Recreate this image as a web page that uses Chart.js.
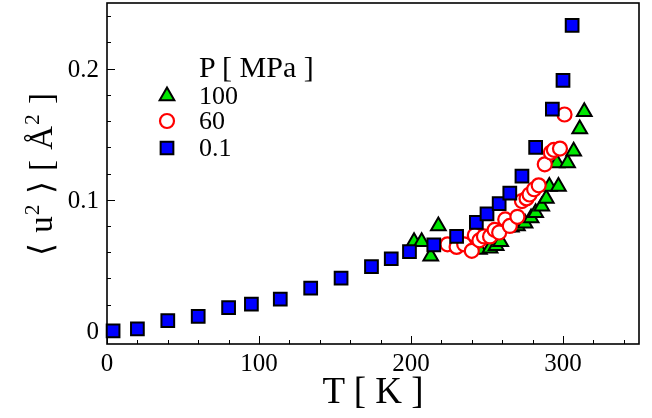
<!DOCTYPE html>
<html>
<head>
<meta charset="utf-8">
<script src="https://cdn.jsdelivr.net/npm/chart.js@4.4.1/dist/chart.umd.min.js"></script>
<style>
    html, body { margin: 0; padding: 0; background: #fff; }
    #wrap { position: relative; width: 652px; height: 418px; }
    #labels { position: absolute; left: 0; top: 0; width: 652px; height: 418px; pointer-events: none; }
    #labels div {
        position: absolute;
        font-family: "Liberation Serif";
        line-height: 1;
        white-space: nowrap;
        color: #000;
    }
    #labels .sup { position: relative; top: -0.62em; font-size: 0.65em; }
</style>
</head>
<body>
<div id="wrap">
    <canvas id="chart"></canvas>
    <div id="labels"></div>
</div>
<script>
// --- Data ---

const xTicks = [0, 100, 200, 300];
const yTicks = [0, 0.1, 0.2];

// P = 0.1 MPa (blue squares)
const t01 = [4, 20, 40, 60, 80, 95, 114, 134, 154, 174, 187, 199, 215, 230, 243, 250, 258, 265, 273, 282, 293, 300, 306];
const u01 = [0.000, 0.0015, 0.0079, 0.011, 0.0178, 0.0204, 0.0242, 0.0326, 0.0402, 0.049, 0.055, 0.0605, 0.0656, 0.072, 0.0827, 0.0893, 0.097, 0.105, 0.118, 0.140, 0.169, 0.191, 0.233];

// P = 60 MPa (red circles)
const t60 = [224, 230, 235, 240, 242, 245, 248, 252, 255, 258, 262, 265, 270, 273, 276, 278, 281, 284, 288, 292, 294, 298, 301];
const u60 = [0.066, 0.064, 0.066, 0.061, 0.073, 0.069, 0.072, 0.072, 0.077, 0.075, 0.085, 0.080, 0.087, 0.099, 0.101, 0.104, 0.108, 0.111, 0.127, 0.136, 0.138, 0.139, 0.165];

// P = 100 MPa (green triangles)
const t100 = [202, 207, 213, 218, 245, 252, 256, 259, 263, 266, 270, 275, 279, 282, 286, 289, 291, 297, 296, 303, 307, 311, 314];
const u100 = [0.068, 0.068, 0.057, 0.080, 0.062, 0.063, 0.065, 0.068, 0.079, 0.079, 0.080, 0.082, 0.086, 0.090, 0.095, 0.101, 0.110, 0.110, 0.128, 0.128, 0.137, 0.154, 0.167];

const legendTitle = 'P [ MPa ]';
const legendLabels = ['100', '60', '0.1'];

const toPoints = (xs, ys) => xs.map((x, i) => ({ x: x, y: ys[i] }));

// --- Styles ---

const styleSquare = { pointStyle: 'rect', radius: 9, fill: '#0000ff', stroke: '#000000', width: 2 };
const styleCircle = { pointStyle: 'circle', radius: 7, fill: '#ffffff', stroke: '#ff0000', width: 2.2 };
const styleTriangle = { pointStyle: 'triangle', radius: 8.5, fill: '#00e600', stroke: '#000000', width: 2 };

// wanted plot frame, in px
const AREA = { left: 107, top: 3, right: 639, bottom: 344 };
const LEGEND_X = 167, LEGEND_TEXT_X = 199;
const LEGEND_ROWS = [96, 121, 148];

function drawMarker(ctx, st, x, y) {
    ctx.save();
    ctx.fillStyle = st.fill;
    ctx.strokeStyle = st.stroke;
    ctx.lineWidth = st.width;
    ctx.beginPath();
    const r = st.radius;
    if (st.pointStyle === 'rect') {
        const s = Math.SQRT1_2 * r;
        ctx.rect(x - s, y - s, 2 * s, 2 * s);
    } else if (st.pointStyle === 'circle') {
        ctx.arc(x, y, r, 0, Math.PI * 2);
    } else {
        for (let k = 0; k < 3; k++) {
            const a = k * 2 * Math.PI / 3;
            const px = x + Math.sin(a) * r;
            const py = y - Math.cos(a) * r;
            if (k === 0) ctx.moveTo(px, py); else ctx.lineTo(px, py);
        }
        ctx.closePath();
    }
    ctx.fill();
    ctx.stroke();
    ctx.restore();
}

// --- Text overlay (HTML text, placed from the chart's scales) ---

const labelsBox = document.getElementById('labels');

function addLabel(html, size, left, top, transform) {
    const d = document.createElement('div');
    d.innerHTML = html;
    d.style.fontSize = size + 'px';
    d.style.left = left + 'px';
    d.style.top = top + 'px';
    if (transform) d.style.transform = transform;
    labelsBox.appendChild(d);
    return d;
}

function buildLabels(chart) {
    const { chartArea: a, scales } = chart;
    labelsBox.innerHTML = '';

    // tick labels (25px: baseline sits ~21px below the box top)
    xTicks.forEach(v => {
        addLabel(String(v), 25, scales.x.getPixelForValue(v), 350, 'translateX(-50%)');
    });
    yTicks.forEach(v => {
        const d = addLabel(String(v), 25, 0, scales.y.getPixelForValue(v) - 12.5);
        d.style.left = 'auto';
        d.style.right = (652 - 99) + 'px';
    });

    // axis titles
    addLabel('T [ K ]', 37, (a.left + a.right) / 2, 372, 'translateX(-50%)');
    const yt = addLabel('\u27E8 u<span class="sup">2</span> \u27E9 [ \u00C5<span class="sup">2</span> ]', 33,
        41, 174, 'translate(-50%, -50%) rotate(-90deg)');
    yt.style.letterSpacing = '1px';

    // legend text
    addLabel(legendTitle, 30, LEGEND_TEXT_X, 52);
    legendLabels.forEach((lab, i) => {
        addLabel(lab, 26, LEGEND_TEXT_X, LEGEND_ROWS[i] + 9 - 22);
    });
}

// --- Frame, ticks and legend markers ---

const framePlugin = {
    id: 'frame',
    beforeDatasetsDraw(chart) {
        const { ctx, chartArea: a, scales } = chart;
        ctx.save();
        ctx.strokeStyle = '#000';
        ctx.lineWidth = 1;
        // minor / major ticks, inward
        for (let v = 0; v <= 340; v += 20) {
            const px = Math.round(scales.x.getPixelForValue(v)) + 0.5;
            const len = v % 100 === 0 ? 8 : 4;
            ctx.beginPath();
            ctx.moveTo(px, a.bottom);
            ctx.lineTo(px, a.bottom - len);
            ctx.stroke();
        }
        for (let i = 0; i <= 12; i++) {
            const py = Math.round(scales.y.getPixelForValue(i * 0.02)) + 0.5;
            const len = i % 5 === 0 ? 8 : 4;
            ctx.beginPath();
            ctx.moveTo(a.left, py);
            ctx.lineTo(a.left + len, py);
            ctx.stroke();
        }
        ctx.lineWidth = 1.6;
        ctx.strokeRect(a.left, a.top, a.right - a.left, a.bottom - a.top);
        ctx.restore();
    },
    afterDraw(chart) {
        const styles = [styleTriangle, styleCircle, styleSquare];
        styles.forEach((st, i) => drawMarker(chart.ctx, st, LEGEND_X, LEGEND_ROWS[i]));
        buildLabels(chart);
    }
};

// --- Chart ---

function dataset(label, pts, st) {
    return {
        label: label,
        data: pts,
        pointStyle: st.pointStyle,
        pointRadius: st.radius,
        pointHoverRadius: st.radius,
        backgroundColor: st.fill,
        borderColor: st.stroke,
        pointBorderWidth: st.width,
        showLine: false,
        clip: false
    };
}

new Chart(document.getElementById('chart'), {
    type: 'scatter',
    data: {
        datasets: [
            dataset('0.1', toPoints(t01, u01), styleSquare),
            dataset('60', toPoints(t60, u60), styleCircle),
            dataset('100', toPoints(t100, u100), styleTriangle)
        ]
    },
    options: {
        responsive: true,
        maintainAspectRatio: false,
        animation: false,
        events: [],
        layout: {
            autoPadding: false,
            padding: { top: AREA.top, right: 652 - AREA.right, left: 0, bottom: 0 }
        },
        plugins: { legend: { display: false }, tooltip: { enabled: false } },
        scales: {
            x: {
                type: 'linear',
                min: 0,
                max: 350,
                afterBuildTicks: s => { s.ticks = xTicks.map(v => ({ value: v })); },
                afterFit: s => { s.height = 418 - AREA.bottom; s.paddingLeft = 0; s.paddingRight = 0; },
                grid: { display: false, drawTicks: false },
                border: { display: false },
                ticks: { display: false }
            },
            y: {
                type: 'linear',
                min: -0.01,
                max: 0.25,
                afterBuildTicks: s => { s.ticks = yTicks.map(v => ({ value: v })); },
                afterFit: s => { s.width = AREA.left; s.paddingTop = 0; s.paddingBottom = 0; },
                grid: { display: false, drawTicks: false },
                border: { display: false },
                ticks: { display: false }
            }
        }
    },
    plugins: [framePlugin]
});
</script>
</body>
</html>
